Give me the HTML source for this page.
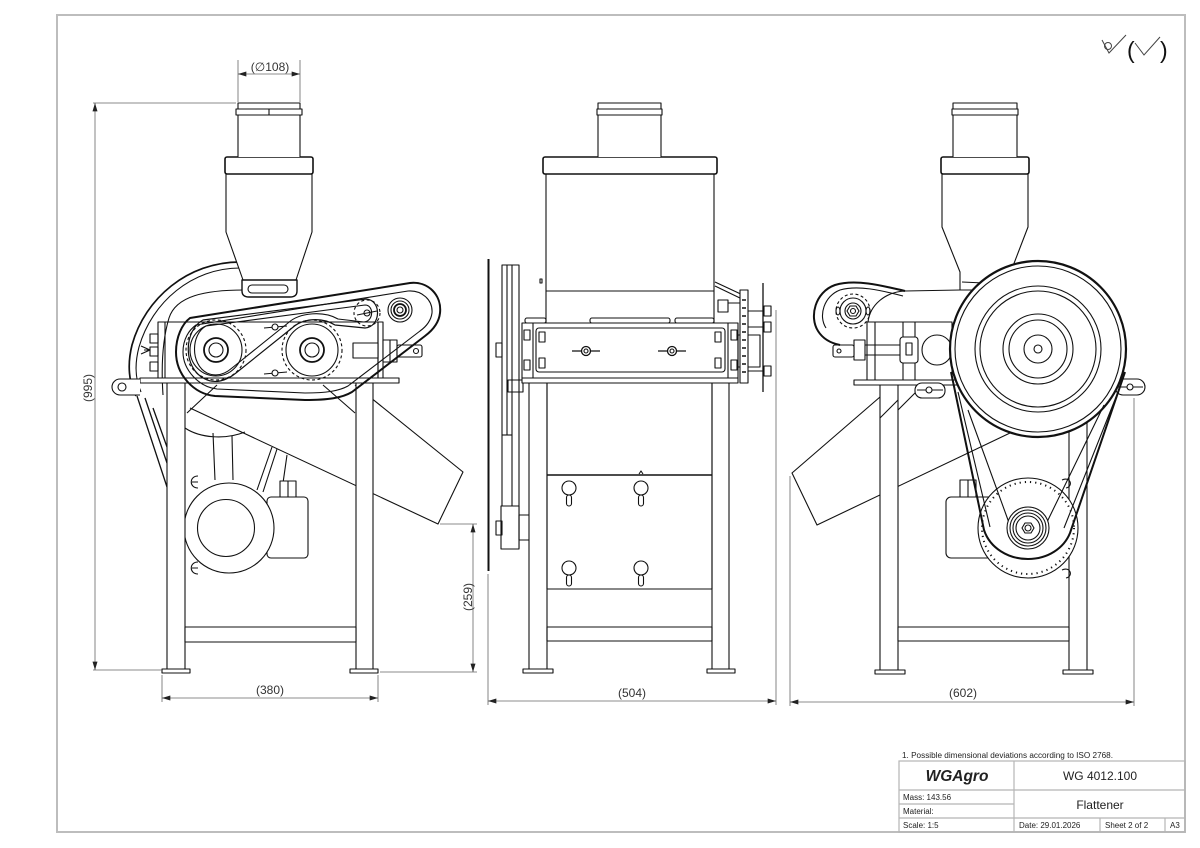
<!DOCTYPE html>
<html><head><meta charset="utf-8"><style>
html,body{margin:0;padding:0;background:#fff;}
svg{display:block;}
text{font-family:"Liberation Sans",Arial,sans-serif;}
</style></head><body>
<svg width="1200" height="848" viewBox="0 0 1200 848" xmlns="http://www.w3.org/2000/svg">
<defs>
<marker id="ar" viewBox="0 0 10 6" markerWidth="9" markerHeight="5" refX="10" refY="3" orient="auto-start-reverse" markerUnits="userSpaceOnUse"><path d="M0,0 L10,3 L0,6 Z" fill="#222"/></marker>
</defs>
<rect x="0" y="0" width="1200" height="848" fill="#fff"/>
<rect x="57" y="15" width="1128" height="817" fill="none" stroke="#bdbdbd" stroke-width="2"/>

<!-- roughness symbol -->
<g stroke="#444" stroke-width="1" fill="none">
<path d="M1102,40 L1109,53 L1126,35"/>
<circle cx="1108" cy="46" r="3.5"/>
<path d="M1135,43 L1144,55 L1160,37"/>
</g>
<text x="1127" y="58" font-size="23" fill="#111">(</text>
<text x="1160" y="58" font-size="23" fill="#111">)</text>

<!-- ================= LEFT VIEW ================= -->
<g fill="none" stroke="#111" stroke-width="1.1" stroke-linejoin="round">
<!-- fan housing -->
<path d="M240,262 C188,262 145,298 132,345 C127,365 129,383 136,396" stroke-width="1.7"/>
<path d="M240,268 C192,268 152,302 139,347 C134,366 136,381 141,392"/>
<path d="M244,290 C205,290 176,296 169,318 C163,338 161,365 163,395"/>
<path d="M137,396 L167,487 M145,398 L167,463 M153,408 L167,447" stroke-width="1.3"/>
<path d="M185,428 C200,438 225,440 245,432"/>
<!-- chute -->
<path d="M190,408 L438,524 L463,472 L355,385"/>
<!-- motor -->
<path d="M213,433 L215,480 M232,436 L233,480"/>
<path d="M257,490 L272,447 M263,492 L277,449 M281,497 L287,455"/>
<rect x="267" y="497" width="41" height="61" rx="4" fill="#fff"/>
<rect x="280" y="481" width="16" height="16" fill="#fff"/>
<line x1="288" y1="481" x2="288" y2="497"/>
<circle cx="229" cy="528" r="45" fill="#fff"/>
<circle cx="226" cy="528" r="28.5"/>
<path d="M198,476 C189,476 189,488 198,488 M198,482 L192,482 M198,562 C189,562 189,574 198,574 M198,568 L192,568"/>
<!-- legs -->
<rect x="167" y="383" width="18" height="286" fill="#fff"/>
<rect x="356" y="383" width="17" height="286" fill="#fff"/>
<rect x="162" y="669" width="28" height="4" fill="#fff"/>
<rect x="350" y="669" width="28" height="4" fill="#fff"/>
<rect x="185" y="627" width="171" height="15" fill="#fff"/>
<path d="M187,413 L217,385 M323,385 L355,413"/>
<!-- frame box -->
<rect x="158" y="322" width="220" height="56"/>
<line x1="165" y1="322" x2="165" y2="378"/>
<rect x="150" y="334" width="8" height="9"/>
<rect x="150" y="347" width="8" height="9"/>
<rect x="150" y="362" width="8" height="9"/>
<path d="M141,346 L150,350 L141,354 M144,350 L150,350"/>
<rect x="378" y="322" width="5" height="56"/>
<rect x="140" y="378" width="259" height="5" fill="#fff"/>
<path d="M140,379 L120,379 A8,8 0 0,0 120,395 L140,395" fill="#fff"/>
<circle cx="122" cy="387" r="4"/>
<!-- shaft right -->
<rect x="353" y="343" width="25" height="15" fill="#fff"/>
<rect x="383" y="340" width="14" height="22" fill="#fff"/>
<line x1="390" y1="340" x2="390" y2="362"/>
<rect x="397" y="345" width="25" height="12" rx="2" fill="#fff"/>
<circle cx="416" cy="351" r="2.5"/>
<!-- belt guard -->
<path d="M190,318 L410,283 C428,281 442,295 440,313 C439,322 433,330 425,336 L352,392 C342,398 328,400 305,400 L215,396 C194,394 176,375 176,352 C176,337 182,324 190,318 Z" stroke-width="2"/>
<path d="M196,325 L408,291 C422,290 433,300 432,313 C431,320 427,326 420,331 L348,386 C339,391 326,393 305,393 L217,389 C199,387 183,370 183,352 C183,339 189,330 196,325 Z"/>
<!-- sprockets -->
<circle cx="216" cy="350" r="30" stroke-dasharray="3 2.5"/>
<circle cx="216" cy="350" r="26"/>
<circle cx="216" cy="350" r="12" stroke-width="1.8"/>
<circle cx="216" cy="350" r="7"/>
<circle cx="312" cy="350" r="30" stroke-dasharray="3 2.5"/>
<circle cx="312" cy="350" r="26"/>
<circle cx="312" cy="350" r="12" stroke-width="1.8"/>
<circle cx="312" cy="350" r="7"/>
<!-- chain -->
<path d="M203,320 C184,330 182,368 205,379 C215,384 226,381 236,373 L292,328 C303,318 322,317 335,325 L365,328 C381,327 382,300 366,299 Z" stroke-width="1.2"/>
<path d="M206,326 C191,334 190,364 207,373 C216,377 224,375 232,368 L288,323 C300,312 324,311 338,319 L364,322 C374,321 374,305 365,305 Z"/>
<circle cx="367" cy="313" r="13" stroke-dasharray="3 2.5"/>
<circle cx="367" cy="313" r="3"/>
<line x1="357" y1="315" x2="377" y2="311"/>
<circle cx="400" cy="310" r="12" fill="#fff"/>
<circle cx="400" cy="310" r="9"/>
<circle cx="400" cy="310" r="6" stroke-width="1.8"/>
<circle cx="400" cy="310" r="3"/>
<!-- wing nuts -->
<path d="M264,328 L287,326 M264,374 L287,372"/>
<circle cx="275" cy="327" r="3" fill="#fff"/>
<circle cx="275" cy="373" r="3" fill="#fff"/>
<!-- hopper -->
<path d="M226,174 L226,232 L243,280 L296,280 L312,232 L312,174 Z" fill="#fff"/>
<path d="M242,280 L297,280 L297,291 Q297,297 290,297 L249,297 Q242,297 242,291 Z" fill="#fff" stroke-width="1.4"/>
<rect x="248" y="285" width="40" height="8" rx="4"/>
<rect x="225" y="157" width="88" height="17" rx="2" fill="#fff" stroke-width="1.6"/>
<path d="M238,157 L238,115 L236,115 L236,109 L238,109 L238,103 L300,103 L300,109 L302,109 L302,115 L300,115 L300,157" fill="#fff"/>
<line x1="238" y1="109" x2="300" y2="109"/><line x1="238" y1="115" x2="300" y2="115"/>
<line x1="269" y1="109" x2="269" y2="115"/>
</g>

<!-- left view dims -->
<g stroke="#666" stroke-width="0.8" fill="none">
<path d="M238,60 L238,102 M300,60 L300,102"/>
<line x1="238" y1="74" x2="300" y2="74" marker-start="url(#ar)" marker-end="url(#ar)"/>
<path d="M93,103 L236,103 M93,670 L162,670"/>
<line x1="95" y1="103" x2="95" y2="670" marker-start="url(#ar)" marker-end="url(#ar)"/>
<path d="M162,675 L162,702 M378,675 L378,702"/>
<line x1="162" y1="698" x2="378" y2="698" marker-start="url(#ar)" marker-end="url(#ar)"/>
<path d="M440,524 L477,524 M380,672 L477,672"/>
<line x1="473" y1="524" x2="473" y2="672" marker-start="url(#ar)" marker-end="url(#ar)"/>
</g>
<g fill="#333" font-size="12">
<text x="270" y="71" text-anchor="middle">(∅108)</text>
<text x="270" y="694" text-anchor="middle">(380)</text>
<text transform="translate(92,388) rotate(-90)" text-anchor="middle">(995)</text>
<text transform="translate(472,597) rotate(-90)" text-anchor="middle">(259)</text>
</g>

<!-- ================= CENTER VIEW ================= -->
<g fill="none" stroke="#111" stroke-width="1.1" stroke-linejoin="round">
<!-- left pulley -->
<line x1="488.5" y1="259" x2="488.5" y2="571" stroke-width="2"/>
<rect x="502" y="265" width="17" height="283" fill="#fff"/>
<line x1="507" y1="265" x2="507" y2="435"/>
<line x1="512" y1="265" x2="512" y2="548"/>
<line x1="502" y1="435" x2="512" y2="435"/>
<rect x="501" y="506" width="18" height="43" fill="#fff"/>
<rect x="519" y="515" width="11" height="25"/>
<rect x="496" y="343" width="6" height="14"/>
<rect x="496" y="521" width="6" height="14"/>
<rect x="508" y="380" width="15" height="12"/>
<!-- legs & lower -->
<rect x="529" y="383" width="18" height="286" fill="#fff"/>
<rect x="712" y="383" width="17" height="286" fill="#fff"/>
<rect x="523" y="669" width="30" height="4" fill="#fff"/>
<rect x="707" y="669" width="28" height="4" fill="#fff"/>
<rect x="547" y="383" width="165" height="206"/>
<line x1="547" y1="475" x2="712" y2="475" stroke-width="1.5"/>
<rect x="547" y="627" width="165" height="14"/>
<path d="M639,474 L641,471 L643,474"/>
<!-- knobs -->
<g>
<circle cx="569" cy="488" r="7"/><rect x="566.5" y="495" width="5" height="11" rx="2.5"/>
<circle cx="641" cy="488" r="7"/><rect x="638.5" y="495" width="5" height="11" rx="2.5"/>
<circle cx="569" cy="568" r="7"/><rect x="566.5" y="575" width="5" height="11" rx="2.5"/>
<circle cx="641" cy="568" r="7"/><rect x="638.5" y="575" width="5" height="11" rx="2.5"/>
</g>
<!-- hopper -->
<rect x="546" y="174" width="168" height="149" fill="#fff"/>
<line x1="546" y1="291" x2="714" y2="291"/>
<rect x="540" y="279" width="2" height="4"/>
<rect x="543" y="157" width="174" height="17" rx="2" stroke-width="1.6" fill="#fff"/>
<path d="M598,157 L598,115 L597,115 L597,109 L598,109 L598,103 L661,103 L661,109 L662,109 L662,115 L661,115 L661,157" fill="#fff"/>
<line x1="598" y1="109" x2="661" y2="109"/><line x1="598" y1="115" x2="661" y2="115"/>
<!-- roller box -->
<rect x="525" y="318" width="21" height="5" rx="2"/>
<rect x="590" y="318" width="80" height="5" rx="2"/>
<rect x="675" y="318" width="39" height="5" rx="2"/>
<rect x="522" y="323" width="216" height="55" fill="#fff"/>
<line x1="533" y1="323" x2="533" y2="378"/>
<line x1="728" y1="323" x2="728" y2="378"/>
<rect x="536" y="328" width="189" height="44" rx="3"/>
<rect x="524" y="330" width="6" height="10"/><rect x="524" y="360" width="6" height="10"/>
<rect x="731" y="330" width="6" height="10"/><rect x="731" y="360" width="6" height="10"/>
<rect x="539" y="332" width="6" height="10"/><rect x="539" y="358" width="6" height="10"/>
<rect x="715" y="332" width="6" height="10"/><rect x="715" y="358" width="6" height="10"/>
<path d="M572,351 L600,351 M658,351 L686,351" stroke-width="1.3"/>
<circle cx="586" cy="351" r="4.5" fill="#fff" stroke-width="1.3"/><circle cx="586" cy="351" r="2"/>
<circle cx="672" cy="351" r="4.5" fill="#fff" stroke-width="1.3"/><circle cx="672" cy="351" r="2"/>
<rect x="522" y="378" width="216" height="5" fill="#fff"/>
<!-- right side -->
<path d="M715,282 L745,296 M715,286 L742,299"/>
<rect x="718" y="300" width="10" height="12"/>
<rect x="738" y="335" width="22" height="32"/>
<path d="M748,311 L763,311 M748,327 L763,327 M748,371 L763,371 M728,303 L740,303"/>
<rect x="740" y="290" width="8" height="93" fill="#fff"/>
<path d="M742,300 h4 M742,308 h4 M742,316 h4 M742,324 h4 M742,332 h4 M742,340 h4 M742,348 h4 M742,356 h4 M742,364 h4 M742,372 h4" stroke-width="1.4"/>
<line x1="763" y1="283" x2="763" y2="392" stroke-width="1.3"/>
<rect x="764" y="306" width="7" height="10"/>
<rect x="764" y="322" width="7" height="10"/>
<rect x="764" y="366" width="7" height="10"/>
</g>
<g stroke="#666" stroke-width="0.8" fill="none">
<path d="M488,574 L488,705 M776,310 L776,705"/>
<line x1="488" y1="701" x2="776" y2="701" marker-start="url(#ar)" marker-end="url(#ar)"/>
</g>
<text x="632" y="697" text-anchor="middle" fill="#333" font-size="12">(504)</text>

<!-- ================= RIGHT VIEW ================= -->
<g fill="none" stroke="#111" stroke-width="1.1" stroke-linejoin="round">
<!-- chute -->
<path d="M880,397 L792,473 L817,525 L1010,433"/>
<!-- legs -->
<rect x="880" y="385" width="18" height="285" fill="#fff"/>
<rect x="1069" y="385" width="18" height="285" fill="#fff"/>
<rect x="875" y="670" width="30" height="4" fill="#fff"/>
<rect x="1063" y="670" width="30" height="4" fill="#fff"/>
<rect x="898" y="627" width="171" height="14" fill="#fff"/>
<path d="M898,410 L920,388 M880,418 L898,400"/>
<!-- motor -->
<rect x="946" y="497" width="56" height="61" rx="5" fill="#fff"/>
<rect x="960" y="480" width="16" height="17" fill="#fff"/>
<line x1="968" y1="480" x2="968" y2="497"/>
<circle cx="1028" cy="528" r="50" fill="#fff"/>
<circle cx="1028" cy="528" r="46" stroke-dasharray="1.2 4" stroke-width="2"/>
<path d="M1062,480 C1070,476 1074,486 1066,488 M1062,570 C1070,566 1074,576 1066,578"/>
<!-- frame & chain guard -->
<rect x="854" y="380" width="286" height="5" fill="#fff"/>
<path d="M868,322 C870,305 885,292 905,291 L960,290"/>
<rect x="867" y="322" width="85" height="58" fill="#fff"/>
<line x1="875" y1="322" x2="875" y2="380"/>
<rect x="903" y="322" width="12" height="58"/>
<rect x="900" y="337" width="18" height="26" rx="3" fill="#fff"/>
<rect x="906" y="343" width="6" height="12"/>
<circle cx="937" cy="350" r="15" fill="#fff"/>
<path d="M865,345 L900,345 M865,355 L900,355"/>
<rect x="854" y="340" width="11" height="20" fill="#fff"/>
<rect x="833" y="345" width="21" height="12" rx="2" fill="#fff"/>
<circle cx="839" cy="351" r="2"/>
<path d="M905,291 C880,285 855,279 835,285 C815,292 809,317 818,331 C823,339 830,343 840,345" stroke-width="2"/>
<path d="M903,296 C880,290 858,285 840,290 C824,296 818,316 826,328"/>
<circle cx="853" cy="311" r="17" stroke-dasharray="3 2.5"/>
<circle cx="853" cy="311" r="13" fill="#fff"/>
<circle cx="853" cy="311" r="8"/>
<polygon points="859,311 856,316 850,316 847,311 850,306 856,306"/>
<circle cx="853" cy="311" r="2.5"/>
<ellipse cx="838" cy="311" rx="2" ry="4"/><ellipse cx="868" cy="311" rx="2" ry="4"/>
<!-- tabs -->
<rect x="915" y="383" width="30" height="15" rx="7" fill="#fff"/>
<path d="M917,390 L943,390"/><circle cx="929" cy="390" r="3" fill="#fff"/>
<rect x="1115" y="379" width="30" height="16" rx="8" fill="#fff"/>
<path d="M1117,387 L1143,387"/><circle cx="1130" cy="387" r="3" fill="#fff"/>
<!-- hopper -->
<path d="M942,174 L942,227 L960,272 L960,290 L975,290 L1013,266 L1028,227 L1028,174 Z" fill="#fff"/>
<line x1="962" y1="282" x2="984" y2="283"/>
<rect x="941" y="157" width="88" height="17" rx="2" stroke-width="1.6" fill="#fff"/>
<path d="M953,157 L953,115 L952,115 L952,109 L953,109 L953,103 L1017,103 L1017,109 L1018,109 L1018,115 L1017,115 L1017,157" fill="#fff"/>
<line x1="953" y1="109" x2="1017" y2="109"/><line x1="953" y1="115" x2="1017" y2="115"/>
<!-- big pulley -->
<circle cx="1038" cy="349" r="88" fill="#fff" stroke-width="2.2"/>
<circle cx="1038" cy="349" r="83"/>
<circle cx="1038" cy="349" r="63"/>
<circle cx="1038" cy="349" r="58"/>
<circle cx="1038" cy="349" r="35"/>
<circle cx="1038" cy="349" r="29"/>
<circle cx="1038" cy="349" r="14"/>
<circle cx="1038" cy="349" r="4"/>
<!-- belt -->
<path d="M951,372 L984,530 C990,548 1008,559 1028,559 C1048,559 1064,548 1070,533 L1125,372" stroke-width="2"/>
<path d="M958,392 L990,527 M1118,392 L1064,528"/>
<path d="M968,410 L1008,520 C1012,540 1044,540 1048,520 L1104,405"/>
<!-- small pulley -->
<circle cx="1028" cy="528" r="21" fill="#fff"/>
<circle cx="1028" cy="528" r="18"/>
<circle cx="1028" cy="528" r="15"/>
<circle cx="1028" cy="528" r="12"/>
<polygon points="1034,528 1031,533 1025,533 1022,528 1025,523 1031,523"/>
<circle cx="1028" cy="528" r="3"/>
</g>
<g stroke="#666" stroke-width="0.8" fill="none">
<path d="M790,476 L790,706 M1134,398 L1134,706"/>
<line x1="790" y1="702" x2="1134" y2="702" marker-start="url(#ar)" marker-end="url(#ar)"/>
</g>
<text x="963" y="697" text-anchor="middle" fill="#333" font-size="12">(602)</text>

<!-- ================= TITLE BLOCK ================= -->
<text x="902" y="758" font-size="8" fill="#222" textLength="211" lengthAdjust="spacingAndGlyphs">1. Possible dimensional deviations according to ISO 2768.</text>
<g stroke="#b5b5b5" stroke-width="1.2" fill="none">
<rect x="899" y="761" width="286" height="71"/>
<line x1="899" y1="790" x2="1185" y2="790"/>
<line x1="899" y1="804" x2="1014" y2="804"/>
<line x1="899" y1="818" x2="1185" y2="818"/>
<line x1="1014" y1="761" x2="1014" y2="832"/>
<line x1="1100" y1="818" x2="1100" y2="832"/>
<line x1="1165" y1="818" x2="1165" y2="832"/>
</g>
<g fill="#222">
<text x="957" y="781" font-size="15.5" font-weight="bold" font-style="italic" text-anchor="middle">WGAgro</text>
<text x="1100" y="780" font-size="12" text-anchor="middle">WG 4012.100</text>
<text x="1100" y="809" font-size="12" text-anchor="middle">Flattener</text>
<text x="903" y="800" font-size="8">Mass: 143.56</text>
<text x="903" y="814" font-size="8">Material:</text>
<text x="903" y="828" font-size="8">Scale: 1:5</text>
<text x="1019" y="828" font-size="8">Date: 29.01.2026</text>
<text x="1105" y="828" font-size="8">Sheet 2 of 2</text>
<text x="1170" y="828" font-size="8">A3</text>
</g>
</svg>
</body></html>
